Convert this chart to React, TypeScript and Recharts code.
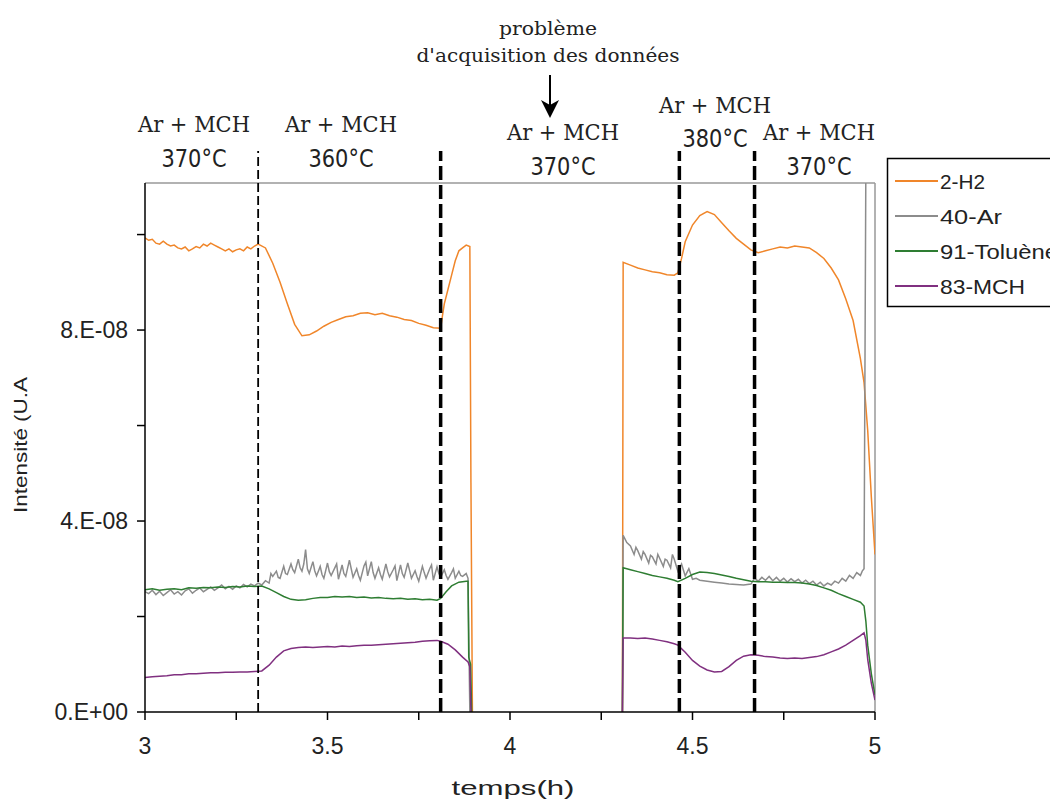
import React from 'react';
import { LineChart, Line, XAxis, YAxis, ReferenceLine } from 'recharts';

// intensities, in units of 1e-8 (U.A.), time in hours
const h2Before: [number, number][] = [
  [3.0, 9.93], [3.01, 9.88], [3.02, 9.9], [3.03, 9.82], [3.04, 9.8], [3.05, 9.86], [3.06, 9.8], [3.07, 9.76],
  [3.08, 9.78], [3.09, 9.72], [3.1, 9.7], [3.11, 9.74], [3.12, 9.66], [3.13, 9.7], [3.14, 9.75], [3.15, 9.72],
  [3.16, 9.8], [3.17, 9.76], [3.18, 9.82], [3.19, 9.78], [3.2, 9.74], [3.21, 9.7], [3.22, 9.66], [3.23, 9.7],
  [3.24, 9.64], [3.25, 9.68], [3.26, 9.7], [3.27, 9.66], [3.28, 9.74], [3.29, 9.7], [3.3, 9.76], [3.31, 9.8],
  [3.33, 9.72], [3.35, 9.4], [3.37, 9.0], [3.39, 8.55], [3.41, 8.12], [3.43, 7.88], [3.45, 7.9],
  [3.47, 7.98], [3.49, 8.08], [3.51, 8.16], [3.53, 8.22], [3.55, 8.28], [3.57, 8.3], [3.59, 8.35], [3.61, 8.36],
  [3.63, 8.32], [3.65, 8.35], [3.67, 8.3], [3.69, 8.27], [3.71, 8.22], [3.73, 8.2], [3.75, 8.14], [3.77, 8.1],
  [3.79, 8.05], [3.81, 8.04], [3.815, 8.3], [3.82, 8.55], [3.83, 8.85], [3.84, 9.15], [3.85, 9.45], [3.86, 9.66],
  [3.87, 9.72], [3.88, 9.78], [3.89, 9.75], [3.893, 4.8], [3.897, 0],
];
const h2After: [number, number][] = [
  [4.308, 0], [4.31, 9.42], [4.33, 9.36], [4.35, 9.3], [4.37, 9.26], [4.39, 9.22], [4.41, 9.2], [4.43, 9.16],
  [4.45, 9.15], [4.46, 9.2], [4.47, 9.5], [4.48, 9.85], [4.5, 10.2], [4.52, 10.4], [4.54, 10.48], [4.56, 10.42],
  [4.58, 10.25], [4.6, 10.08], [4.62, 9.92], [4.64, 9.8], [4.66, 9.68], [4.68, 9.62], [4.7, 9.66], [4.72, 9.7],
  [4.74, 9.74], [4.76, 9.72], [4.78, 9.76], [4.8, 9.74], [4.82, 9.72], [4.84, 9.62], [4.86, 9.5], [4.88, 9.3],
  [4.9, 9.05], [4.92, 8.65], [4.94, 8.2], [4.96, 7.4], [4.97, 6.9], [4.98, 5.9], [4.99, 4.5], [5.0, 3.3],
];

const arBefore: [number, number][] = [
  [3.0, 2.52], [3.01, 2.48], [3.02, 2.55], [3.03, 2.46], [3.04, 2.53], [3.05, 2.44], [3.06, 2.5], [3.07, 2.56],
  [3.08, 2.47], [3.09, 2.52], [3.1, 2.45], [3.11, 2.54], [3.12, 2.58], [3.13, 2.49], [3.14, 2.55], [3.15, 2.6],
  [3.16, 2.52], [3.17, 2.57], [3.18, 2.62], [3.19, 2.55], [3.2, 2.6], [3.21, 2.66], [3.22, 2.58], [3.23, 2.63],
  [3.24, 2.57], [3.25, 2.64], [3.26, 2.6], [3.27, 2.67], [3.28, 2.62], [3.29, 2.68], [3.3, 2.64], [3.31, 2.7],
  [3.32, 2.66], [3.33, 2.75], [3.34, 2.7], [3.345, 2.9], [3.35, 2.84], [3.36, 2.95], [3.365, 2.82], [3.37, 2.8],
  [3.38, 3.05], [3.385, 2.9], [3.39, 2.88], [3.4, 3.1], [3.405, 2.98], [3.41, 2.92], [3.42, 3.2], [3.425, 3.02],
  [3.43, 2.95], [3.435, 3.1], [3.44, 3.4], [3.445, 3.0], [3.45, 2.9], [3.46, 3.15], [3.465, 2.96], [3.47, 2.85],
  [3.48, 3.05], [3.485, 2.88], [3.49, 2.8], [3.5, 3.12], [3.505, 2.94], [3.51, 2.86], [3.52, 3.02], [3.525, 3.1],
  [3.53, 2.78], [3.54, 3.08], [3.545, 2.9], [3.55, 2.84], [3.56, 3.18], [3.565, 3.0], [3.57, 2.82], [3.58, 3.0],
  [3.585, 2.86], [3.59, 2.76], [3.6, 3.06], [3.605, 3.14], [3.61, 2.85], [3.62, 3.15], [3.625, 2.92], [3.63, 2.8],
  [3.64, 3.02], [3.645, 2.88], [3.65, 2.78], [3.66, 3.1], [3.665, 2.94], [3.67, 2.83], [3.68, 2.98], [3.685, 3.06],
  [3.69, 2.75], [3.7, 3.08], [3.705, 2.9], [3.71, 2.82], [3.72, 3.12], [3.725, 2.96], [3.73, 2.8], [3.74, 2.96],
  [3.745, 2.84], [3.75, 2.74], [3.76, 3.05], [3.765, 2.92], [3.77, 2.8], [3.78, 3.0], [3.785, 3.08], [3.79, 2.76],
  [3.8, 3.04], [3.805, 2.9], [3.81, 2.82], [3.82, 2.98], [3.825, 2.86], [3.83, 2.78], [3.84, 2.92], [3.845, 3.0],
  [3.85, 2.8], [3.86, 2.95], [3.865, 2.86], [3.87, 2.84], [3.88, 2.9], [3.885, 2.8], [3.89, 0],
];
const arAfter: [number, number][] = [
  [4.308, 0], [4.31, 3.7], [4.32, 3.55], [4.33, 3.48], [4.34, 3.3], [4.345, 3.45], [4.35, 3.38], [4.36, 3.2],
  [4.365, 3.36], [4.37, 3.3], [4.38, 3.12], [4.385, 3.28], [4.39, 3.25], [4.4, 3.1], [4.405, 3.3], [4.41, 3.22],
  [4.42, 3.05], [4.425, 3.2], [4.43, 3.18], [4.44, 3.02], [4.445, 3.3], [4.45, 3.2], [4.46, 2.95], [4.47, 3.1],
  [4.48, 2.85], [4.49, 3.0], [4.5, 2.78], [4.51, 2.8], [4.52, 2.76], [4.54, 2.74], [4.56, 2.72], [4.58, 2.7],
  [4.6, 2.68], [4.62, 2.67], [4.64, 2.66], [4.66, 2.68], [4.67, 2.8], [4.68, 2.74], [4.69, 2.82], [4.7, 2.76],
  [4.71, 2.84], [4.72, 2.75], [4.73, 2.82], [4.74, 2.74], [4.75, 2.8], [4.76, 2.72], [4.77, 2.79], [4.78, 2.73],
  [4.79, 2.78], [4.8, 2.7], [4.81, 2.76], [4.82, 2.69], [4.83, 2.74], [4.84, 2.66], [4.85, 2.72], [4.86, 2.64],
  [4.87, 2.7], [4.88, 2.66], [4.89, 2.74], [4.9, 2.7], [4.91, 2.8], [4.92, 2.74], [4.93, 2.86], [4.94, 2.8],
  [4.95, 2.92], [4.96, 2.86], [4.965, 2.95], [4.97, 3.0], [4.975, 11.5], [5.0, 11.5],
];

const tolBefore: [number, number][] = [
  [3.0, 2.56], [3.02, 2.58], [3.04, 2.55], [3.06, 2.57], [3.08, 2.58], [3.1, 2.56], [3.12, 2.6], [3.14, 2.59],
  [3.16, 2.61], [3.18, 2.6], [3.2, 2.62], [3.22, 2.61], [3.24, 2.63], [3.26, 2.62], [3.28, 2.64], [3.3, 2.63],
  [3.32, 2.64], [3.34, 2.58], [3.36, 2.5], [3.38, 2.42], [3.4, 2.36], [3.42, 2.34], [3.44, 2.35], [3.46, 2.38],
  [3.48, 2.4], [3.5, 2.4], [3.52, 2.42], [3.54, 2.41], [3.56, 2.42], [3.58, 2.4], [3.6, 2.41], [3.62, 2.39],
  [3.64, 2.4], [3.66, 2.38], [3.68, 2.37], [3.7, 2.38], [3.72, 2.36], [3.74, 2.37], [3.76, 2.35], [3.78, 2.36],
  [3.8, 2.34], [3.81, 2.38], [3.825, 2.52], [3.84, 2.64], [3.86, 2.72], [3.88, 2.74], [3.885, 2.74],
  [3.887, 1.15], [3.892, 1.0], [3.895, 0],
];
const tolAfter: [number, number][] = [
  [4.308, 0], [4.31, 3.02], [4.33, 2.98], [4.35, 2.94], [4.37, 2.9], [4.39, 2.86], [4.41, 2.83], [4.43, 2.8],
  [4.45, 2.76], [4.46, 2.73], [4.48, 2.8], [4.5, 2.88], [4.52, 2.93], [4.54, 2.92], [4.56, 2.9], [4.58, 2.87],
  [4.6, 2.84], [4.62, 2.8], [4.64, 2.77], [4.66, 2.74], [4.68, 2.73], [4.7, 2.73], [4.72, 2.72], [4.74, 2.72],
  [4.76, 2.71], [4.78, 2.71], [4.8, 2.7], [4.82, 2.68], [4.84, 2.65], [4.86, 2.6], [4.88, 2.55], [4.9, 2.48],
  [4.92, 2.42], [4.94, 2.36], [4.96, 2.3], [4.97, 2.22], [4.975, 1.9], [4.98, 1.4], [4.99, 0.8], [5.0, 0.35],
];

const mchBefore: [number, number][] = [
  [3.0, 0.72], [3.02, 0.74], [3.04, 0.75], [3.06, 0.76], [3.08, 0.78], [3.1, 0.78], [3.12, 0.8], [3.14, 0.8],
  [3.16, 0.81], [3.18, 0.82], [3.2, 0.82], [3.22, 0.83], [3.24, 0.83], [3.26, 0.84], [3.28, 0.84], [3.3, 0.85],
  [3.32, 0.86], [3.34, 0.98], [3.36, 1.15], [3.38, 1.28], [3.4, 1.33], [3.42, 1.35], [3.44, 1.36], [3.46, 1.35],
  [3.48, 1.36], [3.5, 1.37], [3.52, 1.36], [3.54, 1.38], [3.56, 1.37], [3.58, 1.39], [3.6, 1.4], [3.62, 1.4],
  [3.64, 1.41], [3.66, 1.42], [3.68, 1.43], [3.7, 1.44], [3.72, 1.45], [3.74, 1.46], [3.76, 1.48], [3.78, 1.49],
  [3.8, 1.5], [3.81, 1.48], [3.83, 1.42], [3.85, 1.3], [3.87, 1.15], [3.885, 1.05], [3.89, 0.95], [3.893, 0],
];
const mchAfter: [number, number][] = [
  [4.308, 0], [4.31, 1.55], [4.33, 1.55], [4.35, 1.54], [4.37, 1.55], [4.39, 1.53], [4.41, 1.5], [4.43, 1.47],
  [4.45, 1.43], [4.46, 1.4], [4.48, 1.25], [4.5, 1.08], [4.52, 0.96], [4.54, 0.88], [4.56, 0.84], [4.58, 0.85],
  [4.6, 0.95], [4.62, 1.08], [4.64, 1.17], [4.66, 1.2], [4.68, 1.19], [4.7, 1.16], [4.72, 1.15], [4.74, 1.13],
  [4.76, 1.12], [4.78, 1.13], [4.8, 1.12], [4.82, 1.14], [4.84, 1.16], [4.86, 1.2], [4.88, 1.26], [4.9, 1.32],
  [4.92, 1.4], [4.94, 1.5], [4.96, 1.6], [4.97, 1.66], [4.975, 1.5], [4.98, 1.1], [4.99, 0.6], [5.0, 0.25],
];

const seriesNames = ['2-H2', '40-Ar', '91-Toluène', '83-MCH'];
const xTicks = [3, 3.25, 3.5, 3.75, 4, 4.25, 4.5, 4.75, 5];
const yTicks = [0, 2, 4, 6, 8, 10];
const phaseBounds = [3.31, 3.81, 4.464, 4.67];
const phaseGas = ['Ar + MCH', 'Ar + MCH', 'Ar + MCH', 'Ar + MCH', 'Ar + MCH'];
const phaseTemp = ['370°C', '360°C', '370°C', '380°C', '370°C'];
const noteLines = ['problème', "d'acquisition des données"];

const Y_MAX = 11.08;
const COLORS = ['#f0862a', '#8c8c8c', '#2e7d32', '#803080'];

// join the two recorded parts, with a break where acquisition failed
const toRows = (a: [number, number][], b: [number, number][]) => [
  ...a.map(([t, v]) => ({ t, v })),
  { t: 4.1, v: null },
  ...b.map(([t, v]) => ({ t, v })),
];

const seriesData = [
  toRows(h2Before, h2After),
  toRows(arBefore, arAfter),
  toRows(tolBefore, tolAfter),
  toRows(mchBefore, mchAfter),
];

const sans = '"Liberation Sans", Arial, sans-serif';

const XTick = ({ x, y, payload }: any) => {
  const v = payload.value;
  if (Math.abs(v * 2 - Math.round(v * 2)) > 1e-6) return <g />;
  return (
    <text x={x} y={y} dy={26} textAnchor="middle" fontSize={23} fontFamily={sans} fill="#222">
      {String(v)}
    </text>
  );
};

const YTick = ({ x, y, payload }: any) => {
  const v = Math.round(payload.value);
  if (v % 4 !== 0) return <g />;
  const label = v === 0 ? '0.E+00' : `${v}.E-08`;
  return (
    <text x={x} y={y} dy={8} textAnchor="end" fontSize={23} fontFamily={sans} fill="#222">
      {label}
    </text>
  );
};

// x, baselines of the two lines of each phase caption
const phasePos = [
  [194, 132, 167],
  [341, 132, 167],
  [563, 140, 175],
  [715, 113, 147],
  [819, 140, 175],
];
const legendWidths = [45, 62, 118, 85];
const legendRows = [181, 216, 251, 286];

export default function App() {
  return (
    <div style={{ position: 'absolute', left: 0, top: 0, width: 1050, height: 800, overflow: 'hidden', background: '#fff' }}>
      <LineChart width={1050} height={800} margin={{ top: 183, right: 175, bottom: 28, left: 65 }}>
        <XAxis
          dataKey="t"
          type="number"
          domain={[3, 5]}
          ticks={xTicks}
          allowDataOverflow
          height={60}
          tick={<XTick />}
          tickSize={8}
          tickMargin={8}
          axisLine={{ stroke: '#000', strokeWidth: 1.5 }}
          tickLine={{ stroke: '#000', strokeWidth: 1.5 }}
        />
        <YAxis
          type="number"
          domain={[0, Y_MAX]}
          ticks={yTicks}
          allowDataOverflow
          width={80}
          tick={<YTick />}
          tickSize={8}
          tickMargin={9}
          axisLine={{ stroke: '#000', strokeWidth: 1.5 }}
          tickLine={{ stroke: '#000', strokeWidth: 1.5 }}
        />
        <ReferenceLine y={Y_MAX} stroke="#999" strokeWidth={1.5} ifOverflow="visible" />
        <ReferenceLine x={5} stroke="#999" strokeWidth={1.5} ifOverflow="visible" />
        {seriesData.map((d, i) => (
          <Line
            key={seriesNames[i]}
            name={seriesNames[i]}
            data={d}
            dataKey="v"
            type="linear"
            stroke={COLORS[i]}
            strokeWidth={1.5}
            dot={false}
            isAnimationActive={false}
          />
        ))}
        {phaseBounds.map((b, i) => (
          <ReferenceLine
            key={b}
            segment={[{ x: b, y: 0 }, { x: b, y: 11.75 }]}
            ifOverflow="visible"
            stroke="#000"
            strokeWidth={i === 0 ? 1.8 : 3.5}
            strokeDasharray={i === 0 ? '9 4' : '14 5'}
          />
        ))}
      </LineChart>

      <svg width={1050} height={800} style={{ position: 'absolute', left: 0, top: 0, pointerEvents: 'none' }}>
        {phasePos.map(([cx, b1, b2], i) => (
          <g key={i} fill="#222">
            <text x={cx} y={b1} textAnchor="middle" fontSize={23} fontFamily='"DejaVu Serif", serif' textLength={112} lengthAdjust="spacingAndGlyphs">
              {phaseGas[i]}
            </text>
            <text x={cx} y={b2} textAnchor="middle" fontSize={25} fontFamily='"DejaVu Sans", sans-serif' textLength={65} lengthAdjust="spacingAndGlyphs">
              {phaseTemp[i]}
            </text>
          </g>
        ))}
        <text x={548} y={35} textAnchor="middle" fontSize={19} fontFamily='"DejaVu Serif", serif' fill="#222" textLength={98} lengthAdjust="spacingAndGlyphs">
          {noteLines[0]}
        </text>
        <text x={548} y={62} textAnchor="middle" fontSize={19} fontFamily='"DejaVu Serif", serif' fill="#222" textLength={263} lengthAdjust="spacingAndGlyphs">
          {noteLines[1]}
        </text>
        <line x1={550} y1={75} x2={550} y2={106} stroke="#000" strokeWidth={2} />
        <polygon points="541,100 550,105 559,100 550,118" fill="#000" />

        <text
          transform="translate(20,445) rotate(-90)"
          textAnchor="middle"
          dominantBaseline="central"
          fontSize={19}
          fontFamily={sans}
          fill="#222"
          textLength={136}
          lengthAdjust="spacingAndGlyphs"
        >
          Intensité (U.A
        </text>
        <text x={513} y={795} textAnchor="middle" fontSize={20} fontFamily={sans} fill="#222" textLength={123} lengthAdjust="spacingAndGlyphs">
          temps(h)
        </text>

        <rect x={887.5} y={158.5} width={200} height={148} fill="#fff" stroke="#000" strokeWidth={1.5} />
        {seriesNames.map((n, i) => (
          <g key={n}>
            <line x1={895} y1={legendRows[i]} x2={938} y2={legendRows[i]} stroke={COLORS[i]} strokeWidth={2} />
            <text x={940} y={legendRows[i] + 8} fontSize={21} fontFamily={sans} fill="#222" textLength={legendWidths[i]} lengthAdjust="spacingAndGlyphs">
              {n}
            </text>
          </g>
        ))}
      </svg>
    </div>
  );
}
